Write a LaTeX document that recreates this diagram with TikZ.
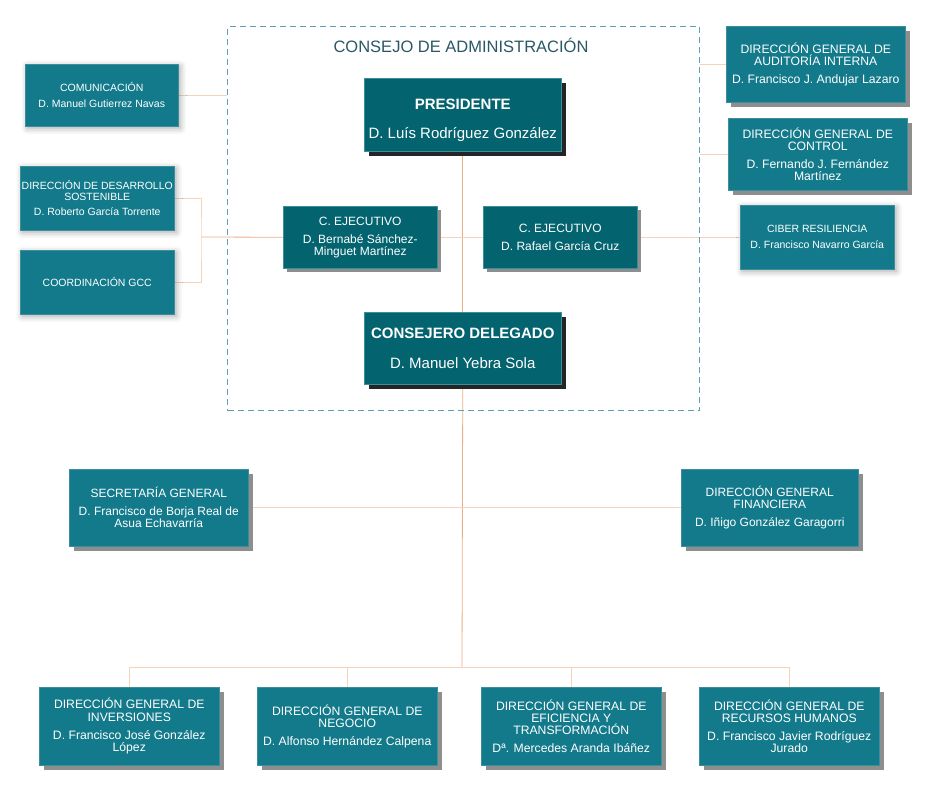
\documentclass[tikz,border=0pt]{standalone}
\usepackage{fontspec}
\setmainfont{Liberation Sans}
\usetikzlibrary{shadows,shadows.blur}
\definecolor{tealL}{HTML}{127A8B}
\definecolor{tealD}{HTML}{03636F}
\definecolor{tealB}{HTML}{3C8E9C}
\definecolor{shgray}{HTML}{8E8E8E}
\definecolor{shdark}{HTML}{252525}
\definecolor{dashcol}{HTML}{5C9FB3}
\definecolor{titlecol}{HTML}{285865}
\definecolor{lineD}{HTML}{EBAE82}
\definecolor{lineL}{HTML}{F5D3BA}
\pgfdeclarelayer{background}
\pgfsetlayers{background,main}
\newcommand{\fsz}[1]{\fontsize{#1pt}{#1pt}\selectfont}
\tikzset{
  orgbox/.style={rectangle, fill=tealL, draw=tealB, line width=0.5pt, text=white,
    align=center, inner sep=0pt, anchor=north west},
  shgraybox/.style={orgbox, drop shadow={shadow xshift=5pt, shadow yshift=-5pt, fill=shgray, opacity=1}},
  shsoftbox/.style={orgbox, blur shadow={shadow xshift=2pt, shadow yshift=-2pt, shadow blur radius=6pt, shadow opacity=35}},
  darkbox/.style={orgbox, fill=tealD, drop shadow={shadow xshift=5pt, shadow yshift=-5pt, fill=shdark, opacity=1}},
  ejbox/.style={orgbox, fill=tealD, drop shadow={shadow xshift=4pt, shadow yshift=-4pt, fill=shgray, opacity=1}},
  lnD/.style={draw=lineD, line width=0.8pt},
  lnL/.style={draw=lineL, line width=0.8pt},
}
\begin{document}
\begin{tikzpicture}[x=1pt,y=-1pt]
\useasboundingbox (0,0) rectangle (931,786);
% dashed frame
\node[draw=dashcol, dash pattern=on 6pt off 4pt, line width=1.1pt, minimum width=472, minimum height=384, anchor=north west, inner sep=0pt] (consejo) at (227,26) {};
\node[text=titlecol, font=\fsz{16.5}] (ctitle) at (461,45) {CONSEJO DE ADMINISTRACIÓN};
% board
\node[darkbox, minimum width=197, minimum height=73] (pres) at (364,78)
  {\fsz{15}\bfseries\rule{0pt}{21pt}PRESIDENTE\\[17pt]\fsz{15}D. Luís Rodríguez González};
\node[ejbox, minimum width=154, minimum height=62, font=\fsz{12}] (cejL) at (283,206)
  {C. EJECUTIVO\\[6pt]D. Bernabé Sánchez-\\Minguet Martínez};
\node[ejbox, minimum width=154, minimum height=62, font=\fsz{12}] (cejR) at (483,206)
  {C. EJECUTIVO\\[6pt]D. Rafael García Cruz};
\node[darkbox, minimum width=197, minimum height=72] (cons) at (364,312)
  {\fsz{15}\bfseries CONSEJERO DELEGADO\\[18pt]\fsz{15}D. Manuel Yebra Sola};
% left side
\node[shsoftbox, minimum width=153, minimum height=62, font=\fsz{10.5}] (com) at (25,64)
  {COMUNICACIÓN\\[5.5pt]D. Manuel Gutierrez Navas};
\node[shsoftbox, minimum width=154, minimum height=64, font=\fsz{10.5}] (des) at (20,166)
  {DIRECCIÓN DE DESARROLLO\\SOSTENIBLE\\[5pt]D. Roberto García Torrente};
\node[shsoftbox, minimum width=154, minimum height=64, font=\fsz{10.5}] (gcc) at (20,250)
  {COORDINACIÓN GCC};
% right side
\node[shgraybox, minimum width=179, minimum height=76, font=\fsz{12.2}] (aud) at (726,26)
  {DIRECCIÓN GENERAL DE\\AUDITORÍA INTERNA\\[6pt]D. Francisco J. Andujar Lazaro};
\node[shgraybox, minimum width=179, minimum height=72, font=\fsz{12.2}] (ctl) at (728,118)
  {DIRECCIÓN GENERAL DE\\CONTROL\\[6pt]D. Fernando J. Fernández\\Martínez};
\node[shsoftbox, minimum width=154, minimum height=64, font=\fsz{10.5}] (cib) at (740,205)
  {CIBER RESILIENCIA\\[5.5pt]D. Francisco Navarro García};
% middle
\node[shgraybox, minimum width=179, minimum height=77, font=\fsz{12}] (sec) at (69,469)
  {SECRETARÍA GENERAL\\[6pt]D. Francisco de Borja Real de\\Asua Echavarría};
\node[shgraybox, minimum width=177, minimum height=77, font=\fsz{12}] (fin) at (681,469)
  {DIRECCIÓN GENERAL\\FINANCIERA\\[6pt]D. Iñigo González Garagorri};
% bottom
\node[shgraybox, minimum width=180, minimum height=78, font=\fsz{12.2}] (inv) at (39,687)
  {DIRECCIÓN GENERAL DE\\INVERSIONES\\[6pt]D. Francisco José González\\López};
\node[shgraybox, minimum width=180, minimum height=78, font=\fsz{12.2}] (neg) at (257,687)
  {DIRECCIÓN GENERAL DE\\NEGOCIO\\[6pt]D. Alfonso Hernández Calpena};
\node[shgraybox, minimum width=180, minimum height=78, font=\fsz{12.2}] (efi) at (481,687)
  {DIRECCIÓN GENERAL DE\\EFICIENCIA Y\\TRANSFORMACIÓN\\[6pt]Dª. Mercedes Aranda Ibáñez};
\node[shgraybox, minimum width=180, minimum height=78, font=\fsz{12.2}] (rrhh) at (699,687)
  {DIRECCIÓN GENERAL DE\\RECURSOS HUMANOS\\[6pt]D. Francisco Javier Rodríguez\\Jurado};
% connectors
\coordinate (brk) at (201,237);
\coordinate (bus) at (462,667);
\begin{pgfonlayer}{background}
  \draw[lnD] (pres.south) -- (cons.north);
  \draw[lnD] (cons.south) -- (bus);
  \draw[lnD] (brk) -- (cejL.west);
  \draw[lnL] (cejL.east) -- (cejR.west);
  \draw[lnL] (cejR.east) -- (cib.west);
  \draw[lnL] (des.east) -| (brk) |- (gcc.east);
  \draw[lnL] (com.east) -- (com.east -| consejo.west);
  \draw[lnL] (aud.west) -- (aud.west -| consejo.east);
  \draw[lnL] (ctl.west) -- (ctl.west -| consejo.east);
  \draw[lnL] (sec.east) -- (fin.west);
  \draw[lnL] (inv.north) -- (inv.north |- bus) -- (rrhh.north |- bus) -- (rrhh.north);
  \draw[lnL] (neg.north) -- (neg.north |- bus);
  \draw[lnL] (efi.north) -- (efi.north |- bus);
\end{pgfonlayer}
\end{tikzpicture}
\end{document}
